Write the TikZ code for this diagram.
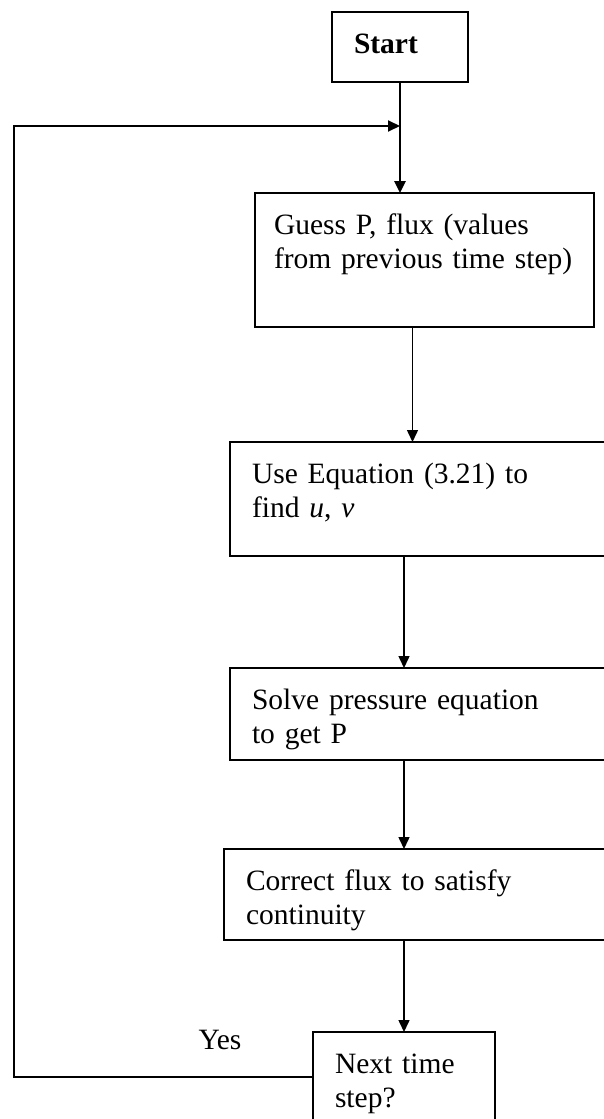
\documentclass[tikz,border=0pt]{standalone}
\usepackage{fontspec}
\setmainfont{Liberation Serif}
\usetikzlibrary{arrows.meta}
\tikzset{every node/.style={font=\fontsize{29.5}{34}\selectfont},
  stepbox/.style={draw, line width=2.5pt, outer sep=0pt, anchor=north west, align=left, inner xsep=22pt, inner ysep=20pt, text height=21pt},
  flow/.style={line width=1.5pt, -{Triangle[length=12pt,width=11pt]}},
  loopline/.style={line width=2pt, -{Triangle[length=12pt,width=11pt]}}}

\begin{document}
\begin{tikzpicture}[x=1pt,y=-1pt]
  \useasboundingbox (0,0) rectangle (604,1119);
  \clip (0,0) rectangle (604,1119);
  \node[stepbox, text width=92pt,  text depth=9pt, font=\fontsize{29.5}{34}\selectfont\bfseries] (start) at (332,12) {Start};
  \node[stepbox, text width=301pt, text depth=73pt, inner xsep=19pt] (guess) at (255,193) {Guess P, flux (values\\from previous time step)};
  \node[stepbox, text width=376pt, text depth=53pt] (use)     at (230,442)  {Use Equation (3.21) to\\find \textit{u}, \textit{v}};
  \node[stepbox, text width=376pt, text depth=31pt] (solve)   at (230,668)  {Solve pressure equation\\to get P};
  \node[stepbox, text width=382pt, text depth=30pt] (correct) at (224,849)  {Correct flux to satisfy\\continuity};
  \node[stepbox, text width=138pt, text depth=29pt] (next)    at (313,1032) {Next time\\step?};
  \node (yes) at (220,1040) {Yes};
  \coordinate (join)   at (400,126);
  \coordinate (corner) at (14,126);
  \draw[line width=2.5pt] (start.south) -- (join);
  \draw[flow, line width=2.5pt] (join) -- (join |- guess.north);
  \draw[flow] ([xshift=-12pt]guess.south) -- ([xshift=-12pt]guess.south |- use.north);
  \draw[flow] (use.south -| next.north) -- (solve.north -| next.north);
  \draw[flow] (solve.south -| next.north) -- (correct.north -| next.north);
  \draw[flow] (correct.south -| next.north) -- (next.north);
  \draw[loopline] (next.west) -| (corner) -- (join);
\end{tikzpicture}
\end{document}
